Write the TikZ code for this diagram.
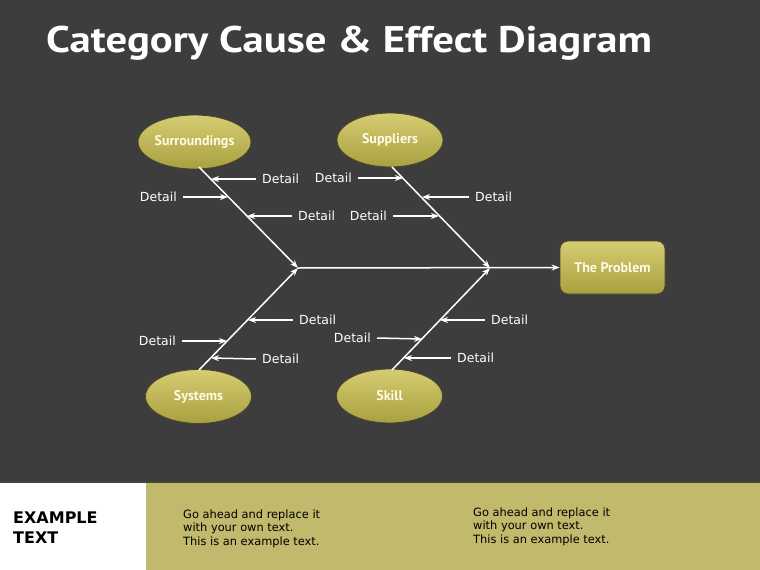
\documentclass[tikz,border=0pt]{standalone}
\usepackage{fontspec}
\setmainfont{DejaVu Sans}
\newfontfamily\titlefont{PT Sans}
\usetikzlibrary{shapes.geometric,arrows.meta,calc}
\definecolor{bg}{HTML}{3D3D3D}
\definecolor{band}{HTML}{C1B96B}
\definecolor{bandline}{HTML}{47463A}
\definecolor{oltop}{HTML}{D6CC72}
\definecolor{olmid}{HTML}{C8BE5E}
\definecolor{olbot}{HTML}{A8A040}
\definecolor{oledge}{HTML}{4A4526}
\definecolor{labeltext}{HTML}{FFFBE6}
\begin{document}
\begin{tikzpicture}[x=1pt,y=-1pt,
  cat/.style={ellipse, minimum width=106, minimum height=54, inner sep=0,
    top color=oltop, middle color=olmid, bottom color=olbot, draw=oledge, line width=0.8,
    text=labeltext, font=\titlefont\bfseries\fontsize{14}{16}\selectfont},
  probbox/.style={rectangle, rounded corners=8, minimum width=105, minimum height=53, inner sep=0,
    top color=oltop, middle color=olmid, bottom color=olbot, draw=oledge, line width=0.8,
    text=labeltext, font=\titlefont\bfseries\fontsize{14}{16}\selectfont},
  bone/.style={draw=white, line width=1.5, -{Stealth[length=8,width=6]}},
  detarrow/.style={draw=white, line width=1.5, -{Stealth[length=8,width=6]}},
  detl/.style={text=white, inner sep=0, font=\fontsize{12.5}{14}\selectfont, anchor=east},
  detr/.style={text=white, inner sep=0, font=\fontsize{12.5}{14}\selectfont, anchor=west},
  body/.style={align=left, inner sep=0, anchor=base west, text=black,
    font=\fontsize{11.4}{13.5}\selectfont}
]
\useasboundingbox (0,0) rectangle (760,570);
\fill[bg] (0,0) rectangle (760,570);
\fill[white] (0,483) rectangle (146,570);
\fill[band] (146,483) rectangle (760,570);
\fill[bandline] (0,481) rectangle (760,483);

\node[anchor=base west, inner sep=0, text=white, font=\titlefont\bfseries\fontsize{37}{40}\selectfont] (title) at (46,52) {\scalebox{1.155}[1]{Category Cause \& Effect Diagram}};

% categories
\node[cat] (surr) at (194.5,142) {Surroundings};
\node[cat] (supp) at (390,140) {Suppliers};
\node[cat] (syst) at (198.5,396.5) {Systems};
\node[cat] (skill) at (389.5,396) {Skill};
\node[probbox] (prob) at (612.5,267.5) {The Problem};

\coordinate (j1) at (298,268);
\coordinate (j2) at (490,268);
\coordinate (s1) at (199,167);
\coordinate (s2) at (392,167);
\coordinate (s3) at (199,370);
\coordinate (s4) at (392,370);

\draw[bone] (s1) -- (j1);
\draw[bone] (s2) -- (j2);
\draw[bone] (s3) -- (j1);
\draw[bone] (s4) -- (j2);
\draw[bone] (j1) -- (prob.west);

% bone points
\coordinate (b1) at (211,179);
\coordinate (b2) at (228,197);
\coordinate (b3) at (247,216);
\coordinate (b4) at (403,178);
\coordinate (b5) at (422,197);
\coordinate (b6) at (439,216);
\coordinate (b7) at (248,320);
\coordinate (b8) at (227,341);
\coordinate (b9) at (211,358);
\coordinate (b10) at (440,320);
\coordinate (b11) at (422,339);
\coordinate (b12) at (404,358);

% detail labels
\node[detr] (d1) at (262,179) {Detail};
\node[detl] (d2) at (177,197) {Detail};
\node[detr] (d3) at (298,216) {Detail};
\node[detl] (d4) at (352,178) {Detail};
\node[detr] (d5) at (475,197) {Detail};
\node[detl] (d6) at (387,216) {Detail};
\node[detr] (d7) at (299,320) {Detail};
\node[detl] (d8) at (176,341) {Detail};
\node[detr] (d9) at (262,359) {Detail};
\node[detr] (d10) at (491,320) {Detail};
\node[detl] (d11) at (371,338) {Detail};
\node[detr] (d12) at (457,358) {Detail};

\draw[detarrow] ([xshift=-6]d1.west) -- (b1);
\draw[detarrow] ([xshift=6]d2.east) -- (b2);
\draw[detarrow] ([xshift=-6]d3.west) -- (b3);
\draw[detarrow] ([xshift=6]d4.east) -- (b4);
\draw[detarrow] ([xshift=-6]d5.west) -- (b5);
\draw[detarrow] ([xshift=6]d6.east) -- (b6);
\draw[detarrow] ([xshift=-6]d7.west) -- (b7);
\draw[detarrow] ([xshift=6]d8.east) -- (b8);
\draw[detarrow] ([xshift=-6]d9.west) -- (b9);
\draw[detarrow] ([xshift=-6]d10.west) -- (b10);
\draw[detarrow] ([xshift=6]d11.east) -- (b11);
\draw[detarrow] ([xshift=-6]d12.west) -- (b12);

% bottom band
\node[anchor=base west, inner sep=0, align=left, text=black,
  font=\bfseries\fontsize{16}{20}\selectfont] (ex) at (13,543) {EXAMPLE\\TEXT};
\node[body] (t1) at (183,545) {Go ahead and replace it\\with your own text.\\This is an example text.};
\node[body] (t2) at (473,543) {Go ahead and replace it\\with your own text.\\This is an example text.};
\end{tikzpicture}
\end{document}
